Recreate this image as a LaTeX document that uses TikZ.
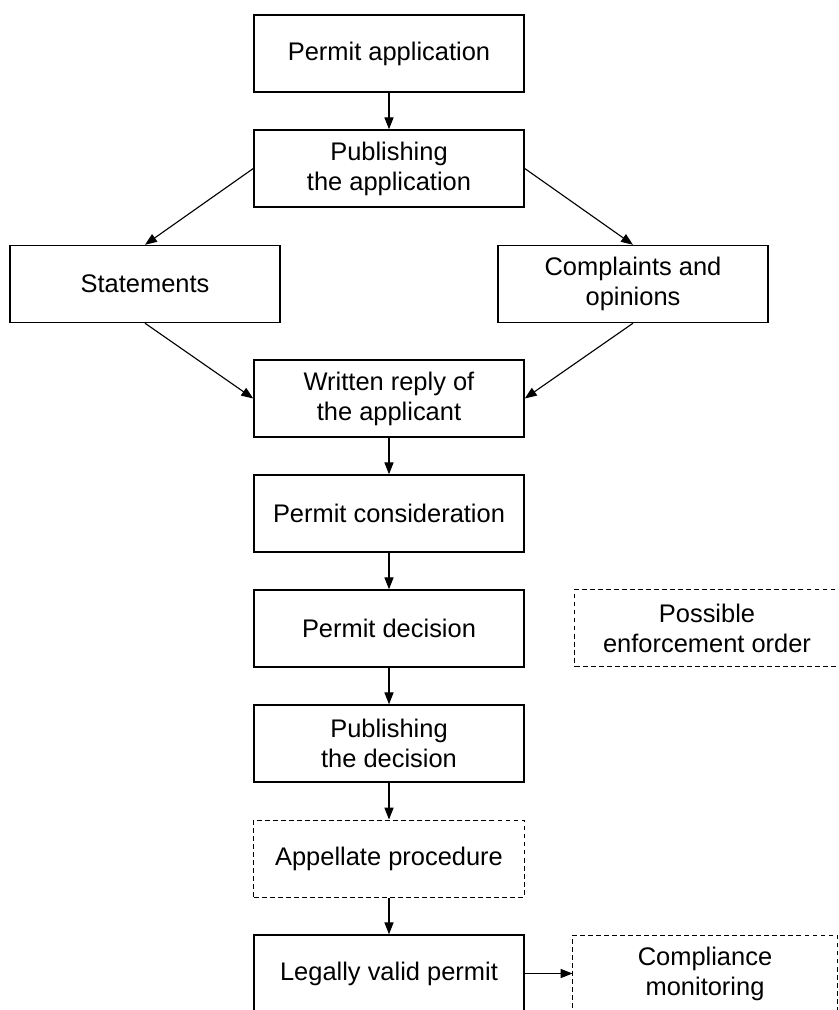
\documentclass[tikz,border=0pt]{standalone}
\usepackage{fontspec}
\setmainfont{Liberation Sans}
\usetikzlibrary{calc,arrows.meta}

\begin{document}
\begin{tikzpicture}[x=0.025cm,y=-0.025cm,
        box/.style={draw, line width=1pt, minimum width=6.75cm, minimum height=1.925cm,
            inner sep=0pt, align=center, font=\fontsize{18.1}{21.3}\selectfont},
        dashbox/.style={box, line width=0.7pt, dash pattern=on 3.5pt off 2.2pt},
        sidebox/.style={dashbox, minimum width=6.6cm},
        >={Triangle[length=8.5pt,width=6.5pt]}]
            \useasboundingbox (0,0) rectangle (839,1010);
            \coordinate (P) at (389,53.5);
            \coordinate (S) at (145,284);
            \coordinate (C) at (633,284);
            \coordinate (E) at (707,628);
            \coordinate (M) at (705,973.5);
            
            \node[box] (perm) at (P) {Permit application};
            \node[box] (pubapp) at ($(P)+(0,115)$) {Publishing\\the application};
            \node[box] (stat) at (S) {Statements};
            \node[box] (compl) at (C) {Complaints and\\opinions};
            \node[box] (reply) at ($(P)+(0,345)$) {Written reply of\\the applicant};
            \node[box] (consid) at ($(P)+(0,460)$) {Permit consideration};
            \node[box] (decis) at ($(P)+(0,575)$) {Permit decision};
            \node[sidebox] (enforce) at (E) {Possible\\enforcement order};
            \node[box] (pubdec) at ($(P)+(0,690)$) {Publishing\\the decision};
            \node[dashbox] (appeal) at ($(P)+(0,805)$) {Appellate procedure};
            \node[box] (valid) at ($(P)+(0,920)$) {Legally valid permit};
            \node[sidebox] (monitor) at (M) {Compliance\\monitoring};
            
            \draw[->, line width=0.8pt] (perm) -- (pubapp);
            \draw[->, line width=0.8pt] (pubapp.west) -- (stat.north);
            \draw[->, line width=0.8pt] (pubapp.east) -- (compl.north);
            \draw[->, line width=0.8pt] (stat.south) -- (reply.west);
            \draw[->, line width=0.8pt] (compl.south) -- (reply.east);
            \draw[->, line width=0.8pt] (reply) -- (consid);
            \draw[->, line width=0.8pt] (consid) -- (decis);
            \draw[->, line width=0.8pt] (decis) -- (pubdec);
            \draw[->, line width=0.8pt] (pubdec) -- (appeal);
            \draw[->, line width=0.8pt] (appeal) -- (valid);
            \draw[->, line width=0.8pt] (valid) -- (monitor);
            
        \end{tikzpicture}
\end{document}
